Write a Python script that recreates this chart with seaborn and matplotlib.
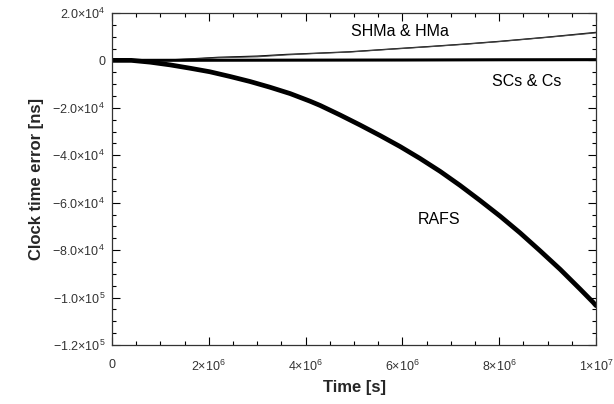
import matplotlib
matplotlib.use("Agg")
import matplotlib.pyplot as plt
import matplotlib.ticker as mticker
import seaborn as sb
import numpy as np

# Daten (Zeit in 1e6 s, Fehler in ns)
rafs_t = [0, 0.4, 0.79, 1.20, 1.61, 2.02, 2.44, 2.85, 3.26, 3.68, 4.09, 4.30, 4.71,
          5.12, 5.54, 5.95, 6.36, 6.78, 7.19, 7.60, 8.02, 8.43, 8.84, 9.26, 9.67,
          9.94, 10.0]
rafs_err = [0, 0, -760, -1900, -3300, -4800, -6800, -8900, -11300, -14000, -17200,
            -19000, -23000, -27200, -31700, -36300, -41300, -46800, -52700, -59000,
            -65700, -72700, -80200, -88100, -96400, -102000, -103400]

shm_t = [0, 1.0, 1.6, 2.2, 3.0, 3.6, 4.2, 4.9, 5.7, 6.6, 7.3, 8.0, 9.0, 10.0]
shm_err = [0, 0, 600, 1300, 1800, 2500, 3000, 3600, 4700, 5900, 6900, 8000, 9800, 11800]
hm_err = [0, 0, 500, 1100, 1500, 2300, 2900, 3500, 4600, 5800, 6800, 7900, 9700, 11600]

cs_t = [0, 2.0, 4.0, 6.0, 8.0, 10.0]
cs_err = [0, 50, 100, 150, 250, 300]

sb.set_style("ticks")
plt.rcParams['font.family'] = ['Liberation Sans', 'DejaVu Sans']

fig = plt.figure(figsize=(6.14, 4.04), dpi=100)
ax = fig.add_axes([0.1824, 0.146, 0.7883, 0.822])

sb.lineplot(x=np.array(rafs_t) * 1e6, y=rafs_err, ax=ax, color="black", lw=3.4)
sb.lineplot(x=np.array(shm_t) * 1e6, y=shm_err, ax=ax, color="black", lw=0.9)
sb.lineplot(x=np.array(shm_t) * 1e6, y=hm_err, ax=ax, color="#444444", lw=0.8)
sb.lineplot(x=np.array(cs_t) * 1e6, y=cs_err, ax=ax, color="black", lw=2.2)

ax.set_xlim(0, 1e7)
ax.set_ylim(-1.2e5, 2e4)


def fmt_y(v, pos):
    if v == 0:
        return "0"
    exp = int(np.floor(np.log10(abs(v))))
    mant = v / 10 ** exp
    sign = "\u2212" if mant < 0 else ""
    return r"$\mathregular{%s%.1f{\times}10^{%d}}$" % (sign, abs(mant), exp)


def fmt_x(v, pos):
    if v == 0:
        return "0"
    exp = int(np.floor(np.log10(abs(v))))
    mant = v / 10 ** exp
    return r"$\mathregular{%d{\times}10^{%d}}$" % (round(mant), exp)


ax.xaxis.set_major_locator(mticker.MultipleLocator(2e6))
ax.xaxis.set_minor_locator(mticker.MultipleLocator(5e5))
ax.yaxis.set_major_locator(mticker.MultipleLocator(2e4))
ax.yaxis.set_minor_locator(mticker.MultipleLocator(5e3))
ax.xaxis.set_major_formatter(mticker.FuncFormatter(fmt_x))
ax.yaxis.set_major_formatter(mticker.FuncFormatter(fmt_y))

ax.tick_params(which="both", direction="in", top=True, right=True, colors="black",
               width=0.8)
ax.tick_params(which="major", length=6, labelsize=9, labelcolor="#333333")
ax.tick_params(which="minor", length=3)
ax.tick_params(axis="x", which="major", pad=10)
ax.tick_params(axis="y", which="major", pad=5)
for s in ax.spines.values():
    s.set_color("#333333")
    s.set_linewidth(0.9)

ax.set_xlabel("Time [s]", fontsize=12, fontweight="bold", labelpad=4)
ax.set_ylabel("Clock time error [ns]", fontsize=12, fontweight="bold", labelpad=6)

ax.text(5.95e6, 1.2e4, "SHMa & HMa", fontsize=11.5, ha="center", va="center", color="black")
ax.text(8.57e6, -9.0e3, "SCs & Cs", fontsize=11.5, ha="center", va="center", color="black")
ax.text(6.76e6, -6.72e4, "RAFS", fontsize=11.5, ha="center", va="center", color="black")

plt.savefig("out.png", dpi=100)
